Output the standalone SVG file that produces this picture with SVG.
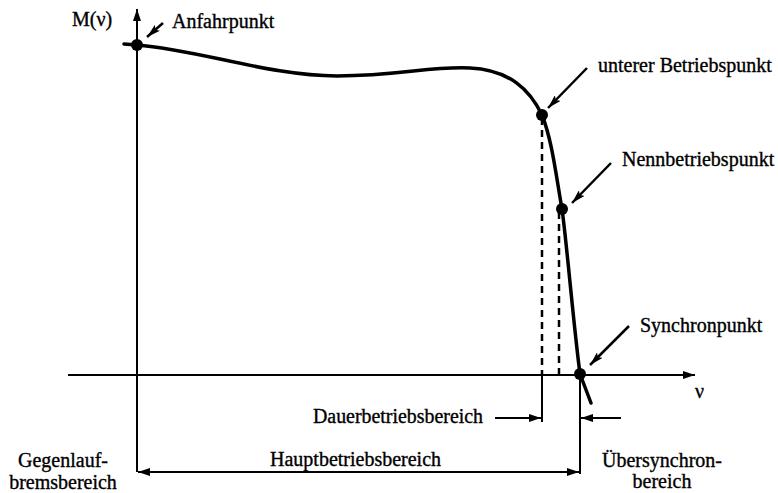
<svg xmlns="http://www.w3.org/2000/svg" width="778" height="493" viewBox="0 0 778 493">
<defs>
<marker id="ah" viewBox="0 0 12 8" refX="12" refY="4" markerWidth="12" markerHeight="8" markerUnits="userSpaceOnUse" orient="auto">
<path d="M0,0 L12,4 L0,8 Z" fill="#000"/>
</marker>
<marker id="ahs" viewBox="0 0 12 8" refX="0" refY="4" markerWidth="12" markerHeight="8" markerUnits="userSpaceOnUse" orient="auto">
<path d="M12,0 L0,4 L12,8 Z" fill="#000"/>
</marker>
<marker id="ptr" viewBox="0 0 14 8" refX="14" refY="4" markerWidth="14" markerHeight="8" markerUnits="userSpaceOnUse" orient="auto">
<path d="M0,0 L14,4 L0,8 L3,4 Z" fill="#000"/>
</marker>
</defs>
<style>
text{font-family:"Liberation Serif","Times New Roman",serif;font-size:20px;fill:#000;stroke:#000;stroke-width:0.35}
.ax{stroke:#000;stroke-width:2;fill:none}
.dash{stroke:#000;stroke-width:2.5;stroke-dasharray:7,5;fill:none}
.curve{stroke:#000;stroke-width:3.5;fill:none;stroke-linecap:round;stroke-linejoin:round}
.ptr{stroke:#000;stroke-width:2.5;fill:none;marker-end:url(#ptr)}
.dot{fill:#000}
</style>
<rect width="778" height="493" fill="#fff"/>
<g id="axes">
<line class="ax" x1="137" y1="472" x2="137" y2="9" marker-end="url(#ah)"/>
<line class="ax" x1="68" y1="375" x2="695" y2="375" marker-end="url(#ah)"/>
<text x="72" y="26">M(ν)</text>
<text x="695" y="398">ν</text>
</g>
<g id="connectors">
<path class="curve" d="M124,44 L137,45 C200,50 270,76 337,76 C400,76 430,66 470,68 C510,70 530,90 542,115 C552,140 556,175 562,209 C567,245 573,320 580,374 L591,403"/>
<line class="dash" x1="542" y1="118" x2="542" y2="375"/>
<line class="dash" x1="559" y1="212" x2="559" y2="375"/>
<line class="ax" x1="542" y1="375" x2="542" y2="422"/>
<line class="ax" x1="580" y1="375" x2="580" y2="474"/>
<line class="ptr" x1="163" y1="23" x2="147" y2="37"/>
<line class="ptr" x1="587" y1="68" x2="548" y2="108"/>
<line class="ptr" x1="611" y1="163" x2="572" y2="203"/>
<line class="ptr" x1="629" y1="326" x2="590" y2="365"/>
<line class="ax" x1="495" y1="418" x2="541" y2="418" marker-end="url(#ah)"/>
<line class="ax" x1="621" y1="418" x2="581" y2="418" marker-end="url(#ah)"/>
<line class="ax" x1="138" y1="472" x2="579" y2="472" marker-start="url(#ahs)" marker-end="url(#ah)"/>
</g>
<g id="anfahrpunkt">
<circle class="dot" cx="137" cy="45" r="6"/>
<text x="172" y="28">Anfahrpunkt</text>
</g>
<g id="unterer-betriebspunkt">
<circle class="dot" cx="542" cy="115" r="6"/>
<text x="598" y="72">unterer Betriebspunkt</text>
</g>
<g id="nennbetriebspunkt">
<circle class="dot" cx="562" cy="209" r="6"/>
<text x="622" y="166">Nennbetriebspunkt</text>
</g>
<g id="synchronpunkt">
<circle class="dot" cx="580" cy="374" r="6"/>
<text x="640" y="332">Synchronpunkt</text>
</g>
<g id="dauerbetriebsbereich">
<text x="313" y="423" textLength="170" lengthAdjust="spacingAndGlyphs">Dauerbetriebsbereich</text>
</g>
<g id="hauptbetriebsbereich">
<text x="270" y="466">Hauptbetriebsbereich</text>
</g>
<g id="gegenlaufbremsbereich">
<text x="63" y="467" text-anchor="middle">Gegenlauf-</text>
<text x="63" y="489" text-anchor="middle">bremsbereich</text>
</g>
<g id="uebersynchronbereich">
<text x="662" y="467" text-anchor="middle">Übersynchron-</text>
<text x="662" y="488" text-anchor="middle">bereich</text>
</g>
</svg>
